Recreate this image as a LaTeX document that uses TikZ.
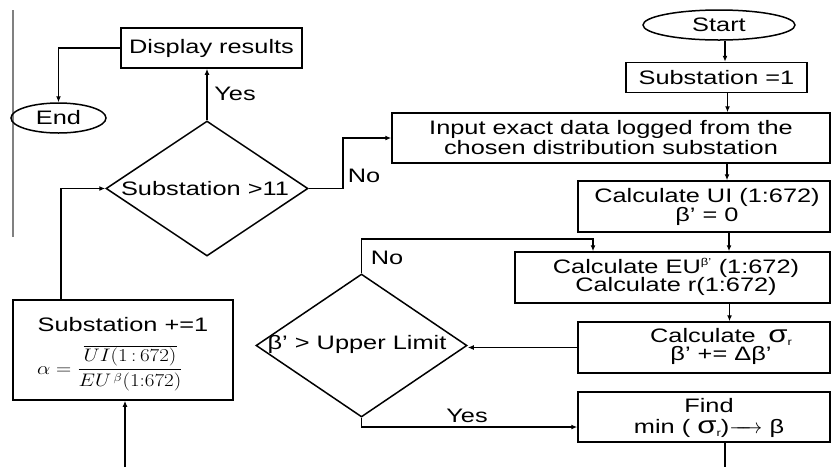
\documentclass[tikz,border=0pt]{standalone}
\usepackage{amsmath}
\usepackage{graphicx}
\usepackage{fontspec}
\setmainfont{Liberation Sans}[FakeStretch=1.3]
\usetikzlibrary{shapes.geometric,arrows.meta,calc}
\newcommand\fsz{\fontsize{19.5}{20}\selectfont}
\begin{document}
\begin{tikzpicture}[x=1pt,y=-1pt,
  box/.style={draw,line width=1.5pt,inner sep=0pt,align=center,font=\fsz},
  oval/.style={draw,ellipse,line width=1.5pt,inner sep=0pt,font=\fsz},
  decision/.style={draw,diamond,line width=1.5pt,inner sep=0pt},
  txt/.style={inner sep=0pt,font=\fsz,align=center},
  conn/.style={line width=1.5pt},
  arr/.style={conn,-{Latex[length=6pt,width=5pt]}}]
\useasboundingbox (0,0) rectangle (831,467);
% side rule
\coordinate (ruletop) at (13,10);
\coordinate (rulebot) at (13,237);
\draw[gray,line width=1.8pt] (ruletop) -- (rulebot);
% nodes
\node[oval,minimum width=152pt,minimum height=30pt] (start) at (719,25) {Start};
\node[box,minimum width=181pt,minimum height=30pt] (s1) at (716.5,77.5) {Substation =1};
\node[box,minimum width=438pt,minimum height=50pt] (inp) at (611,138) {Input exact data logged from the\\chosen distribution substation};
\node[box,minimum width=252pt,minimum height=51pt] (ui) at (704,206.5) {};
\node[txt] (uit) at (707,207) {Calculate UI (1:672)\\[-1pt]β’ = 0};
\node[box,minimum width=315pt,minimum height=51pt] (eu) at (672.5,277.5) {};
\node[txt] (eut) at (676,277) {Calculate EU\textsuperscript{\fontsize{10}{10}\selectfont β’} (1:672)\\[-2pt]Calculate r(1:672)};
\node[box,minimum width=252pt,minimum height=51pt] (sig) at (704,347.5) {};
\node[txt] (sigt) at (721,346) {Calculate\; {\fontsize{24}{20}\selectfont σ}\raisebox{-3pt}{\fontsize{10}{10}\selectfont r}\\[-2pt]β’ += Δβ’};
\node[box,minimum width=252pt,minimum height=50pt] (find) at (704,417) {};
\node[txt] (findt) at (709,418) {Find\\[1pt]min ( {\fontsize{24}{20}\selectfont σ}\raisebox{-3pt}{\fontsize{10}{10}\selectfont r})$\xrightarrow{\hspace{22pt}}$ β};
\node[decision,minimum width=211pt,minimum height=143pt] (d2) at (361.5,345.5) {};
\node[txt] (d2t) at (357,344) {β’ > Upper Limit};
\node[decision,minimum width=202pt,minimum height=135pt] (d1) at (207,188.5) {};
\node[txt] (d1t) at (205,189) {Substation >11};
\node[box,minimum width=181pt,minimum height=40pt] (disp) at (211.5,48) {Display results};
\node[oval,minimum width=95pt,minimum height=30pt] (endn) at (58.5,118) {End};
\node[box,minimum width=220pt,minimum height=100pt] (inc) at (123,350) {};
\node[txt] (inct) at (123,325) {Substation +=1};
\node[inner sep=0pt] (frm) at (110,368) {\scalebox{1.22}[1.05]{\fontsize{16}{18}\selectfont $\alpha=\displaystyle\frac{\overline{UI(1\,{:}\,672)}}{EU^{\,\beta}(1{:}672)}$}};
% labels
\node[txt] (yes1) at (235,94) {Yes};
\node[txt] (no1) at (364,176) {No};
\node[txt] (no2) at (387,258) {No};
\node[txt] (yes2) at (467,416) {Yes};
% helper coordinates
\coordinate (loopx) at (61,0);
\coordinate (nocorner) at (593,239);
\coordinate (incin) at (125,467);
\coordinate (findout) at (725,467);
% connectors
\draw[arr] ([xshift=6pt]start.south) -- ([xshift=6pt]start.south |- s1.north);
\draw[arr] ([xshift=11pt]s1.south) -- ([xshift=11pt]s1.south |- inp.north);
\draw[arr] ([xshift=116pt]inp.south) -- ([xshift=116pt]inp.south |- ui.north);
\draw[arr] ([xshift=25pt]ui.south) -- ([xshift=25pt]ui.south |- eu.north);
\draw[arr] ([xshift=57pt]eu.south) -- ([xshift=57pt]eu.south |- sig.north);
\draw[arr] (sig.west) -- (sig.west -| d2.east);
\draw[arr] (d2.north) |- (nocorner) -- (nocorner |- eu.north);
\draw[arr] (d2.south) |- ($(find.west)+(0,10)$);
\draw[conn] (find.south -| findout) -- (findout);
\draw[arr] (incin) -- (incin |- inc.south);
\draw[arr] (inc.north -| loopx) |- (d1.west);
\draw[arr] (d1.north) -- (d1.north |- disp.south);
\draw[arr] (d1.east) -- ++(34,0) |- (inp.west);
\draw[arr] (disp.west) -| (endn.north);
\end{tikzpicture}
\end{document}
